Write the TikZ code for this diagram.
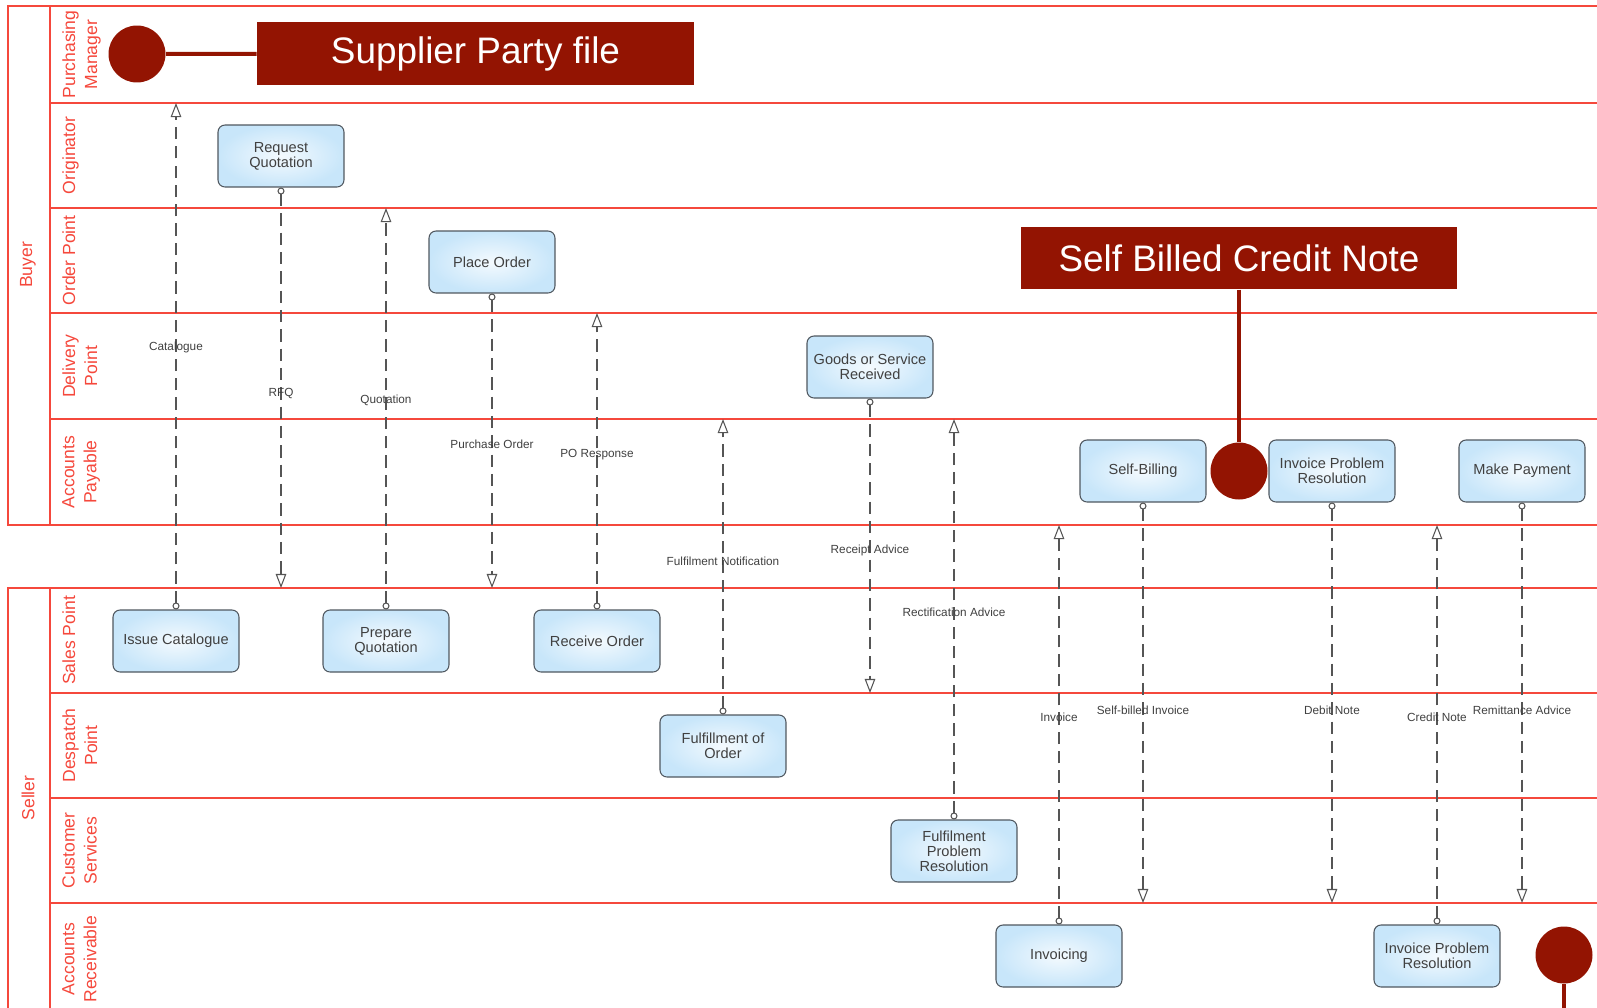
\documentclass[tikz,border=0pt]{standalone}
\usepackage{fontspec}
\setmainfont{Liberation Sans}
\usetikzlibrary{arrows.meta}
\definecolor{lanered}{RGB}{245,72,60}
\definecolor{bannerred}{RGB}{147,20,2}
\definecolor{boxedge}{RGB}{80,88,96}
\definecolor{boxlight}{RGB}{244,250,254}
\definecolor{boxblue}{RGB}{200,230,250}
\definecolor{flowgray}{RGB}{85,85,85}
\tikzset{
  lane/.style={draw=lanered, line width=1pt},
  lanelabel/.style={text=lanered, font=\fontsize{10}{12.5}\selectfont,
                    rotate=90, align=center, inner sep=0pt},
  task/.style={draw=boxedge, line width=0.6pt, rounded corners=4pt,
               inner color=boxlight, outer color=boxblue,
               minimum width=2.52cm, minimum height=1.24cm, align=center,
               font=\fontsize{8.3}{8.6}\selectfont, text=black!75},
  flow/.style={draw=flowgray, line width=0.6pt, dash pattern=on 7pt off 4pt,
               {Circle[open,fill=white,length=4pt]}-{Triangle[open,fill=white,length=8pt,width=6pt]}},
  flowlabel/.style={font=\fontsize{6.7}{7}\selectfont, text=black!75, inner sep=1pt},
  banner/.style={fill=bannerred, text=white, font=\fontsize{21}{21}\selectfont,
                 minimum width=8.74cm, minimum height=1.25cm},
  marker/.style={circle, fill=bannerred, minimum size=1.14cm, inner sep=0pt},
  tie/.style={draw=bannerred, line width=2.3pt},
}

\begin{document}
\begin{tikzpicture}[
  x=0.02cm,
  y=-0.02cm,
]
\useasboundingbox (0,0) rectangle (1597,1008);

% pools
\draw[lane] (8,6) rectangle (1605,525);
\draw[lane] (8,588) rectangle (1605,1015);
\node[lanelabel] (buyer) at (28,265) {Buyer};
\node[lanelabel] (seller) at (28,798) {Seller};

% lanes
\foreach \n/\t/\b/\l in {pm/6/103/Purchasing\\Manager,
                         orig/103/208/Originator,
                         op/208/313/Order Point,
                         dp/313/419/Delivery\\Point,
                         ap/419/525/Accounts\\Payable,
                         sp/588/693/Sales Point,
                         desp/693/798/Despatch\\Point,
                         cs/798/903/Customer\\Services,
                         ar/903/1015/Accounts\\Receivable}
  {
   \draw[lane] (50,\t) rectangle (1605,\b);
   \coordinate (\n-top) at (50,\t);
   \coordinate (\n-bot) at (50,\b);
   \node[lanelabel, anchor=north] (\n-label) at (62,{(\t+\b)/2}) {\l};
  }

% tasks
\node[task] (rq)   at (281,156)  {Request\\Quotation};
\node[task] (po)   at (492,262)  {Place Order};
\node[task] (gsr)  at (870,367)  {Goods or Service\\Received};
\node[task] (sb)   at (1143,471) {Self-Billing};
\node[task] (iprb) at (1332,471) {Invoice Problem\\Resolution};
\node[task] (mp)   at (1522,471) {Make Payment};
\node[task] (ic)   at (176,641)  {Issue Catalogue};
\node[task] (pq)   at (386,641)  {Prepare\\Quotation};
\node[task] (ro)   at (597,641)  {Receive Order};
\node[task] (fo)   at (723,746)  {Fulfillment of\\Order};
\node[task] (fpr)  at (954,851)  {Fulfilment\\Problem\\Resolution};
\node[task] (inv)  at (1059,956) {Invoicing};
\node[task] (iprs) at (1437,956) {Invoice Problem\\Resolution};

% messages
\foreach \s/\e/\y/\t in {ic.north/pm-bot/347/Catalogue,
                         rq.south/sp-top/393/RFQ,
                         pq.north/orig-bot/400/Quotation,
                         po.south/sp-top/444/Purchase Order,
                         ro.north/op-bot/455/PO Response,
                         fo.north/dp-bot/561/Fulfilment Notification,
                         gsr.south/sp-bot/550/Receipt Advice,
                         fpr.north/dp-bot/612/Rectification Advice,
                         inv.north/ap-bot/717/Invoice,
                         sb.south/cs-bot/710/Self-billed Invoice,
                         iprb.south/cs-bot/710/Debit Note,
                         iprs.north/ap-bot/717/Credit Note,
                         mp.south/cs-bot/710/Remittance Advice}
  {
   \draw[flow] (\s) -- (\s |- \e);
   \path (\s) -- (\s |- \e) coordinate[pos=0] (m);
   \node[flowlabel] at (m |- 0,\y) {\t};
  }

% annotations
\node[marker] (spf-dot) at (137,54) {};
\node[banner] (spf) at (475.5,53.5) {Supplier Party file};
\draw[tie] (spf-dot) -- (spf);
\node[marker] (sbcn-dot) at (1239,471) {};
\node[banner] (sbcn) at (1239,258) {Self Billed Credit Note};
\draw[tie] (sbcn) -- (sbcn-dot);
\node[marker] (end-dot) at (1564,955) {};
\coordinate (end-tail) at (1564,1015);
\draw[tie] (end-dot) -- (end-tail);

\end{tikzpicture}
\end{document}
